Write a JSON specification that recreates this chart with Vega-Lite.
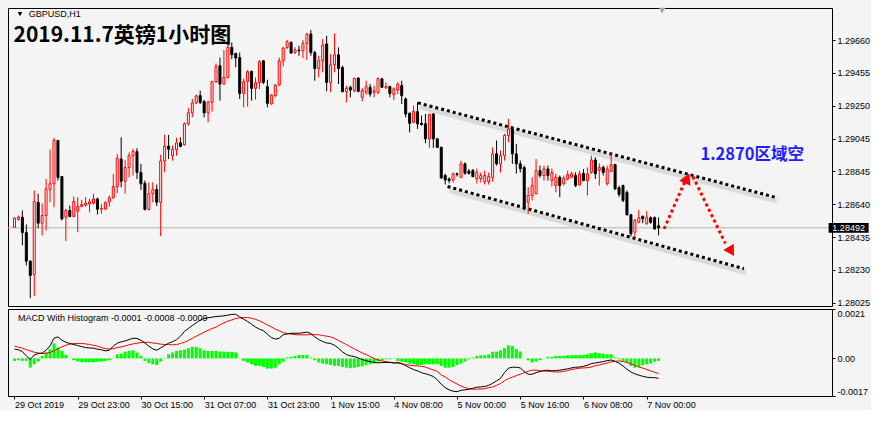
{
"$schema": "https://vega.github.io/schema/vega-lite/v6.json",
"padding": {"left": 7, "top": 7, "right": 0, "bottom": 0},
"background": "#f4f4f4",
"spacing": 3,
"bounds": "flush",
"config": {
  "view": {"stroke": "#000000", "strokeWidth": 1, "fill": "#f4f4f4"},
  "axis": {"labelFont": "Liberation Sans", "labelFontSize": 9, "labelColor": "#000000", "tickColor": "#000000", "domain": false, "grid": false, "labelOverlap": false}
},
"datasets": {
"k": [
{"i":0,"o":1.28496,"h":1.28557,"l":1.28494,"c":1.28552,"m":0.00041,"s":0.00055,"g":-0.00011},
{"i":1,"o":1.28544,"h":1.28569,"l":1.28538,"c":1.28558,"m":0.00038,"s":0.00049,"g":-0.00008},
{"i":2,"o":1.28558,"h":1.28600,"l":1.28383,"c":1.28462,"m":0.00030,"s":0.00045,"g":-0.00011},
{"i":3,"o":1.28462,"h":1.28513,"l":1.28258,"c":1.28285,"m":0.00011,"s":0.00039,"g":-0.00011},
{"i":4,"o":1.28285,"h":1.28289,"l":1.28055,"c":1.28196,"m":-0.00004,"s":0.00033,"g":-0.00041},
{"i":5,"o":1.28200,"h":1.28724,"l":1.28068,"c":1.28656,"m":0.00015,"s":0.00027,"g":-0.00026},
{"i":6,"o":1.28650,"h":1.28704,"l":1.28490,"c":1.28521,"m":0.00021,"s":0.00024,"g":-0.00014},
{"i":7,"o":1.28521,"h":1.28643,"l":1.28445,"c":1.28569,"m":0.00024,"s":0.00021,"g":0.00011},
{"i":8,"o":1.28569,"h":1.28796,"l":1.28476,"c":1.28734,"m":0.00036,"s":0.00023,"g":0.00026},
{"i":9,"o":1.28730,"h":1.28979,"l":1.28651,"c":1.28766,"m":0.00055,"s":0.00026,"g":0.00041},
{"i":10,"o":1.28766,"h":1.29052,"l":1.28620,"c":1.29035,"m":0.00089,"s":0.00033,"g":0.00066},
{"i":11,"o":1.29035,"h":1.29039,"l":1.28786,"c":1.28806,"m":0.00095,"s":0.00042,"g":0.00048},
{"i":12,"o":1.28811,"h":1.28811,"l":1.28538,"c":1.28548,"m":0.00080,"s":0.00051,"g":0.00033},
{"i":13,"o":1.28558,"h":1.28610,"l":1.28410,"c":1.28600,"m":0.00071,"s":0.00058,"g":0.00015},
{"i":14,"o":1.28600,"h":1.28631,"l":1.28558,"c":1.28563,"m":0.00066,"s":0.00063,"g":0.00001},
{"i":15,"o":1.28563,"h":1.28687,"l":1.28558,"c":1.28656,"m":0.00061,"s":0.00066,"g":-0.00008},
{"i":16,"o":1.28596,"h":1.28683,"l":1.28465,"c":1.28625,"m":0.00057,"s":0.00066,"g":-0.00014},
{"i":17,"o":1.28625,"h":1.28666,"l":1.28620,"c":1.28637,"m":0.00052,"s":0.00066,"g":-0.00017},
{"i":18,"o":1.28633,"h":1.28683,"l":1.28625,"c":1.28645,"m":0.00048,"s":0.00064,"g":-0.00017},
{"i":19,"o":1.28641,"h":1.28672,"l":1.28589,"c":1.28654,"m":0.00046,"s":0.00061,"g":-0.00017},
{"i":20,"o":1.28645,"h":1.28704,"l":1.28637,"c":1.28672,"m":0.00045,"s":0.00058,"g":-0.00017},
{"i":21,"o":1.28672,"h":1.28679,"l":1.28575,"c":1.28608,"m":0.00041,"s":0.00054,"g":-0.00015},
{"i":22,"o":1.28608,"h":1.28641,"l":1.28579,"c":1.28612,"m":0.00038,"s":0.00048,"g":-0.00014},
{"i":23,"o":1.28608,"h":1.28656,"l":1.28604,"c":1.28650,"m":0.00033,"s":0.00043,"g":-0.00011},
{"i":24,"o":1.28654,"h":1.28693,"l":1.28625,"c":1.28679,"m":0.00036,"s":0.00041,"g":-0.00007},
{"i":25,"o":1.28679,"h":1.28828,"l":1.28672,"c":1.28749,"m":0.00054,"s":0.00043,"g":0.00001},
{"i":26,"o":1.28749,"h":1.28952,"l":1.28707,"c":1.28924,"m":0.00067,"s":0.00048,"g":0.00018},
{"i":27,"o":1.28920,"h":1.29055,"l":1.28744,"c":1.28782,"m":0.00073,"s":0.00051,"g":0.00021},
{"i":28,"o":1.28782,"h":1.28914,"l":1.28704,"c":1.28868,"m":0.00077,"s":0.00055,"g":0.00030},
{"i":29,"o":1.28868,"h":1.28961,"l":1.28806,"c":1.28941,"m":0.00083,"s":0.00060,"g":0.00033},
{"i":30,"o":1.28939,"h":1.28983,"l":1.28817,"c":1.28968,"m":0.00089,"s":0.00064,"g":0.00036},
{"i":31,"o":1.28966,"h":1.28987,"l":1.28796,"c":1.28837,"m":0.00088,"s":0.00067,"g":0.00026},
{"i":32,"o":1.28837,"h":1.28890,"l":1.28728,"c":1.28766,"m":0.00080,"s":0.00070,"g":0.00011},
{"i":33,"o":1.28769,"h":1.28786,"l":1.28600,"c":1.28606,"m":0.00068,"s":0.00071,"g":-0.00011},
{"i":34,"o":1.28606,"h":1.28775,"l":1.28600,"c":1.28704,"m":0.00054,"s":0.00071,"g":-0.00021},
{"i":35,"o":1.28704,"h":1.28775,"l":1.28651,"c":1.28730,"m":0.00042,"s":0.00068,"g":-0.00026},
{"i":36,"o":1.28730,"h":1.28761,"l":1.28627,"c":1.28651,"m":0.00036,"s":0.00066,"g":-0.00029},
{"i":37,"o":1.28651,"h":1.28947,"l":1.28441,"c":1.28908,"m":0.00046,"s":0.00063,"g":-0.00014},
{"i":38,"o":1.28908,"h":1.29072,"l":1.28837,"c":1.29000,"m":0.00057,"s":0.00061,"g":-0.00002},
{"i":39,"o":1.29000,"h":1.29070,"l":1.28920,"c":1.28981,"m":0.00067,"s":0.00061,"g":0.00018},
{"i":40,"o":1.28941,"h":1.29004,"l":1.28910,"c":1.28979,"m":0.00074,"s":0.00060,"g":0.00026},
{"i":41,"o":1.28979,"h":1.29052,"l":1.28941,"c":1.29021,"m":0.00082,"s":0.00061,"g":0.00033},
{"i":42,"o":1.29021,"h":1.29055,"l":1.28993,"c":1.28998,"m":0.00098,"s":0.00066,"g":0.00036},
{"i":43,"o":1.29008,"h":1.29148,"l":1.29004,"c":1.29139,"m":0.00119,"s":0.00071,"g":0.00039},
{"i":44,"o":1.29139,"h":1.29238,"l":1.29128,"c":1.29207,"m":0.00132,"s":0.00079,"g":0.00045},
{"i":45,"o":1.29207,"h":1.29293,"l":1.29179,"c":1.29269,"m":0.00145,"s":0.00088,"g":0.00051},
{"i":46,"o":1.29269,"h":1.29320,"l":1.29262,"c":1.29312,"m":0.00157,"s":0.00098,"g":0.00051},
{"i":47,"o":1.29314,"h":1.29345,"l":1.29262,"c":1.29272,"m":0.00169,"s":0.00107,"g":0.00045},
{"i":48,"o":1.29277,"h":1.29287,"l":1.29179,"c":1.29207,"m":0.00176,"s":0.00116,"g":0.00036},
{"i":49,"o":1.29207,"h":1.29283,"l":1.29148,"c":1.29272,"m":0.00179,"s":0.00124,"g":0.00033},
{"i":50,"o":1.29272,"h":1.29407,"l":1.29215,"c":1.29401,"m":0.00182,"s":0.00132,"g":0.00033},
{"i":51,"o":1.29401,"h":1.29514,"l":1.29393,"c":1.29496,"m":0.00185,"s":0.00138,"g":0.00033},
{"i":52,"o":1.29500,"h":1.29551,"l":1.29283,"c":1.29386,"m":0.00186,"s":0.00148,"g":0.00030},
{"i":53,"o":1.29386,"h":1.29598,"l":1.29382,"c":1.29427,"m":0.00188,"s":0.00157,"g":0.00030},
{"i":54,"o":1.29427,"h":1.29642,"l":1.29421,"c":1.29614,"m":0.00191,"s":0.00164,"g":0.00029},
{"i":55,"o":1.29614,"h":1.29645,"l":1.29541,"c":1.29568,"m":0.00194,"s":0.00170,"g":0.00029},
{"i":56,"o":1.29576,"h":1.29582,"l":1.29490,"c":1.29548,"m":0.00195,"s":0.00176,"g":0.00026},
{"i":57,"o":1.29551,"h":1.29582,"l":1.29293,"c":1.29328,"m":0.00183,"s":0.00179,"g":0.00001},
{"i":58,"o":1.29328,"h":1.29421,"l":1.29241,"c":1.29401,"m":0.00173,"s":0.00180,"g":-0.00011},
{"i":59,"o":1.29401,"h":1.29473,"l":1.29246,"c":1.29463,"m":0.00163,"s":0.00180,"g":-0.00018},
{"i":60,"o":1.29465,"h":1.29469,"l":1.29283,"c":1.29359,"m":0.00151,"s":0.00177,"g":-0.00026},
{"i":61,"o":1.29359,"h":1.29427,"l":1.29289,"c":1.29395,"m":0.00138,"s":0.00172,"g":-0.00033},
{"i":62,"o":1.29395,"h":1.29535,"l":1.29355,"c":1.29525,"m":0.00129,"s":0.00166,"g":-0.00033},
{"i":63,"o":1.29531,"h":1.29535,"l":1.29386,"c":1.29396,"m":0.00122,"s":0.00157,"g":-0.00038},
{"i":64,"o":1.29370,"h":1.29413,"l":1.29241,"c":1.29266,"m":0.00107,"s":0.00148,"g":-0.00045},
{"i":65,"o":1.29262,"h":1.29324,"l":1.29258,"c":1.29318,"m":0.00092,"s":0.00139,"g":-0.00045},
{"i":66,"o":1.29314,"h":1.29386,"l":1.29303,"c":1.29380,"m":0.00085,"s":0.00129,"g":-0.00041},
{"i":67,"o":1.29380,"h":1.29551,"l":1.29376,"c":1.29531,"m":0.00089,"s":0.00122,"g":-0.00026},
{"i":68,"o":1.29531,"h":1.29618,"l":1.29496,"c":1.29610,"m":0.00104,"s":0.00114,"g":-0.00014},
{"i":69,"o":1.29614,"h":1.29660,"l":1.29604,"c":1.29650,"m":0.00108,"s":0.00110,"g":0.00004},
{"i":70,"o":1.29645,"h":1.29651,"l":1.29573,"c":1.29579,"m":0.00111,"s":0.00107,"g":0.00007},
{"i":71,"o":1.29582,"h":1.29614,"l":1.29573,"c":1.29598,"m":0.00111,"s":0.00105,"g":0.00011},
{"i":72,"o":1.29598,"h":1.29625,"l":1.29562,"c":1.29593,"m":0.00111,"s":0.00104,"g":0.00015},
{"i":73,"o":1.29593,"h":1.29660,"l":1.29548,"c":1.29639,"m":0.00113,"s":0.00104,"g":0.00015},
{"i":74,"o":1.29639,"h":1.29704,"l":1.29535,"c":1.29697,"m":0.00116,"s":0.00104,"g":0.00015},
{"i":75,"o":1.29697,"h":1.29722,"l":1.29562,"c":1.29582,"m":0.00110,"s":0.00105,"g":0.00004},
{"i":76,"o":1.29582,"h":1.29593,"l":1.29407,"c":1.29483,"m":0.00095,"s":0.00105,"g":-0.00008},
{"i":77,"o":1.29483,"h":1.29562,"l":1.29427,"c":1.29531,"m":0.00083,"s":0.00104,"g":-0.00018},
{"i":78,"o":1.29531,"h":1.29666,"l":1.29459,"c":1.29629,"m":0.00074,"s":0.00101,"g":-0.00023},
{"i":79,"o":1.29635,"h":1.29686,"l":1.29341,"c":1.29396,"m":0.00068,"s":0.00098,"g":-0.00026},
{"i":80,"o":1.29396,"h":1.29573,"l":1.29335,"c":1.29506,"m":0.00066,"s":0.00095,"g":-0.00029},
{"i":81,"o":1.29506,"h":1.29701,"l":1.29459,"c":1.29568,"m":0.00058,"s":0.00088,"g":-0.00033},
{"i":82,"o":1.29568,"h":1.29614,"l":1.29386,"c":1.29483,"m":0.00045,"s":0.00079,"g":-0.00033},
{"i":83,"o":1.29490,"h":1.29500,"l":1.29335,"c":1.29339,"m":0.00029,"s":0.00070,"g":-0.00038},
{"i":84,"o":1.29339,"h":1.29376,"l":1.29272,"c":1.29359,"m":0.00017,"s":0.00061,"g":-0.00041},
{"i":85,"o":1.29366,"h":1.29376,"l":1.29303,"c":1.29349,"m":0.00011,"s":0.00051,"g":-0.00043},
{"i":86,"o":1.29345,"h":1.29427,"l":1.29335,"c":1.29421,"m":0.00008,"s":0.00042,"g":-0.00041},
{"i":87,"o":1.29424,"h":1.29427,"l":1.29335,"c":1.29341,"m":0.00002,"s":0.00033,"g":-0.00038},
{"i":88,"o":1.29303,"h":1.29362,"l":1.29279,"c":1.29345,"m":-0.00005,"s":0.00024,"g":-0.00035},
{"i":89,"o":1.29335,"h":1.29407,"l":1.29320,"c":1.29370,"m":-0.00010,"s":0.00017,"g":-0.00030},
{"i":90,"o":1.29366,"h":1.29386,"l":1.29308,"c":1.29324,"m":-0.00014,"s":0.00008,"g":-0.00026},
{"i":91,"o":1.29335,"h":1.29376,"l":1.29303,"c":1.29345,"m":-0.00017,"s":-0.00001,"g":-0.00023},
{"i":92,"o":1.29335,"h":1.29427,"l":1.29324,"c":1.29421,"m":-0.00020,"s":-0.00007,"g":-0.00014},
{"i":93,"o":1.29418,"h":1.29424,"l":1.29362,"c":1.29366,"m":-0.00018,"s":-0.00011,"g":-0.00008},
{"i":94,"o":1.29362,"h":1.29397,"l":1.29356,"c":1.29370,"m":-0.00018,"s":-0.00014,"g":-0.00004},
{"i":95,"o":1.29370,"h":1.29376,"l":1.29303,"c":1.29328,"m":-0.00018,"s":-0.00017,"g":-0.00004},
{"i":96,"o":1.29320,"h":1.29366,"l":1.29287,"c":1.29356,"m":-0.00020,"s":-0.00020,"g":-0.00001},
{"i":97,"o":1.29349,"h":1.29397,"l":1.29324,"c":1.29386,"m":-0.00018,"s":-0.00021,"g":-0.00011},
{"i":98,"o":1.29376,"h":1.29407,"l":1.29262,"c":1.29314,"m":-0.00023,"s":-0.00024,"g":-0.00015},
{"i":99,"o":1.29293,"h":1.29303,"l":1.29179,"c":1.29200,"m":-0.00032,"s":-0.00027,"g":-0.00018},
{"i":100,"o":1.29204,"h":1.29210,"l":1.29086,"c":1.29142,"m":-0.00041,"s":-0.00030,"g":-0.00023},
{"i":101,"o":1.29148,"h":1.29252,"l":1.29142,"c":1.29215,"m":-0.00049,"s":-0.00032,"g":-0.00026},
{"i":102,"o":1.29215,"h":1.29273,"l":1.29107,"c":1.29139,"m":-0.00055,"s":-0.00033,"g":-0.00029},
{"i":103,"o":1.29142,"h":1.29190,"l":1.29128,"c":1.29134,"m":-0.00063,"s":-0.00035,"g":-0.00029},
{"i":104,"o":1.29139,"h":1.29200,"l":1.29018,"c":1.29045,"m":-0.00068,"s":-0.00038,"g":-0.00026},
{"i":105,"o":1.29045,"h":1.29204,"l":1.28989,"c":1.29196,"m":-0.00073,"s":-0.00045,"g":-0.00026},
{"i":106,"o":1.29200,"h":1.29204,"l":1.28989,"c":1.29045,"m":-0.00080,"s":-0.00051,"g":-0.00026},
{"i":107,"o":1.29045,"h":1.29052,"l":1.28989,"c":1.28993,"m":-0.00094,"s":-0.00057,"g":-0.00026},
{"i":108,"o":1.28993,"h":1.28997,"l":1.28796,"c":1.28803,"m":-0.00114,"s":-0.00073,"g":-0.00033},
{"i":109,"o":1.28817,"h":1.28828,"l":1.28761,"c":1.28790,"m":-0.00129,"s":-0.00082,"g":-0.00041},
{"i":110,"o":1.28796,"h":1.28806,"l":1.28769,"c":1.28786,"m":-0.00139,"s":-0.00094,"g":-0.00041},
{"i":111,"o":1.28790,"h":1.28837,"l":1.28775,"c":1.28828,"m":-0.00145,"s":-0.00104,"g":-0.00038},
{"i":112,"o":1.28828,"h":1.28836,"l":1.28811,"c":1.28823,"m":-0.00147,"s":-0.00113,"g":-0.00029},
{"i":113,"o":1.28806,"h":1.28910,"l":1.28803,"c":1.28890,"m":-0.00141,"s":-0.00122,"g":-0.00023},
{"i":114,"o":1.28890,"h":1.28899,"l":1.28823,"c":1.28831,"m":-0.00139,"s":-0.00129,"g":-0.00014},
{"i":115,"o":1.28844,"h":1.28858,"l":1.28823,"c":1.28831,"m":-0.00136,"s":-0.00134,"g":-0.00004},
{"i":116,"o":1.28848,"h":1.28858,"l":1.28806,"c":1.28811,"m":-0.00132,"s":-0.00136,"g":0.00004},
{"i":117,"o":1.28798,"h":1.28860,"l":1.28767,"c":1.28836,"m":-0.00127,"s":-0.00136,"g":0.00011},
{"i":118,"o":1.28798,"h":1.28836,"l":1.28774,"c":1.28817,"m":-0.00126,"s":-0.00135,"g":0.00014},
{"i":119,"o":1.28780,"h":1.28848,"l":1.28761,"c":1.28817,"m":-0.00124,"s":-0.00134,"g":0.00014},
{"i":120,"o":1.28780,"h":1.28836,"l":1.28761,"c":1.28811,"m":-0.00119,"s":-0.00129,"g":0.00018},
{"i":121,"o":1.28806,"h":1.28993,"l":1.28780,"c":1.28952,"m":-0.00110,"s":-0.00126,"g":0.00029},
{"i":122,"o":1.28952,"h":1.29035,"l":1.28879,"c":1.28890,"m":-0.00099,"s":-0.00119,"g":0.00030},
{"i":123,"o":1.28890,"h":1.28972,"l":1.28836,"c":1.28941,"m":-0.00088,"s":-0.00111,"g":0.00036},
{"i":124,"o":1.28941,"h":1.29076,"l":1.28910,"c":1.29066,"m":-0.00063,"s":-0.00099,"g":0.00045},
{"i":125,"o":1.29066,"h":1.29170,"l":1.29024,"c":1.29107,"m":-0.00043,"s":-0.00089,"g":0.00058},
{"i":126,"o":1.29107,"h":1.29117,"l":1.28890,"c":1.28952,"m":-0.00039,"s":-0.00083,"g":0.00055},
{"i":127,"o":1.28952,"h":1.29014,"l":1.28829,"c":1.28890,"m":-0.00039,"s":-0.00076,"g":0.00041},
{"i":128,"o":1.28890,"h":1.28910,"l":1.28836,"c":1.28860,"m":-0.00042,"s":-0.00070,"g":0.00030},
{"i":129,"o":1.28867,"h":1.28879,"l":1.28600,"c":1.28610,"m":-0.00058,"s":-0.00063,"g":0.00001},
{"i":130,"o":1.28651,"h":1.28745,"l":1.28579,"c":1.28693,"m":-0.00070,"s":-0.00057,"g":-0.00008},
{"i":131,"o":1.28693,"h":1.28806,"l":1.28662,"c":1.28755,"m":-0.00070,"s":-0.00052,"g":-0.00018},
{"i":132,"o":1.28704,"h":1.28920,"l":1.28700,"c":1.28848,"m":-0.00063,"s":-0.00052,"g":-0.00014},
{"i":133,"o":1.28848,"h":1.28879,"l":1.28804,"c":1.28817,"m":-0.00058,"s":-0.00055,"g":-0.00007},
{"i":134,"o":1.28817,"h":1.28879,"l":1.28786,"c":1.28858,"m":-0.00054,"s":-0.00055,"g":0.00001},
{"i":135,"o":1.28858,"h":1.28879,"l":1.28786,"c":1.28817,"m":-0.00052,"s":-0.00057,"g":0.00007},
{"i":136,"o":1.28786,"h":1.28860,"l":1.28749,"c":1.28836,"m":-0.00055,"s":-0.00058,"g":0.00007},
{"i":137,"o":1.28755,"h":1.28828,"l":1.28713,"c":1.28806,"m":-0.00054,"s":-0.00060,"g":0.00011},
{"i":138,"o":1.28806,"h":1.28817,"l":1.28683,"c":1.28755,"m":-0.00052,"s":-0.00060,"g":0.00011},
{"i":139,"o":1.28766,"h":1.28817,"l":1.28755,"c":1.28800,"m":-0.00049,"s":-0.00057,"g":0.00011},
{"i":140,"o":1.28796,"h":1.28848,"l":1.28786,"c":1.28823,"m":-0.00046,"s":-0.00054,"g":0.00014},
{"i":141,"o":1.28806,"h":1.28842,"l":1.28804,"c":1.28828,"m":-0.00042,"s":-0.00049,"g":0.00014},
{"i":142,"o":1.28817,"h":1.28837,"l":1.28745,"c":1.28755,"m":-0.00039,"s":-0.00046,"g":0.00014},
{"i":143,"o":1.28759,"h":1.28848,"l":1.28755,"c":1.28828,"m":-0.00038,"s":-0.00043,"g":0.00014},
{"i":144,"o":1.28831,"h":1.28858,"l":1.28782,"c":1.28786,"m":-0.00035,"s":-0.00042,"g":0.00015},
{"i":145,"o":1.28786,"h":1.28868,"l":1.28693,"c":1.28828,"m":-0.00030,"s":-0.00041,"g":0.00018},
{"i":146,"o":1.28837,"h":1.28941,"l":1.28828,"c":1.28914,"m":-0.00023,"s":-0.00038,"g":0.00023},
{"i":147,"o":1.28914,"h":1.28931,"l":1.28796,"c":1.28828,"m":-0.00020,"s":-0.00032,"g":0.00026},
{"i":148,"o":1.28848,"h":1.28893,"l":1.28755,"c":1.28868,"m":-0.00017,"s":-0.00029,"g":0.00023},
{"i":149,"o":1.28868,"h":1.28879,"l":1.28817,"c":1.28837,"m":-0.00014,"s":-0.00024,"g":0.00021},
{"i":150,"o":1.28766,"h":1.28879,"l":1.28755,"c":1.28858,"m":-0.00010,"s":-0.00020,"g":0.00018},
{"i":151,"o":1.28844,"h":1.28961,"l":1.28837,"c":1.28883,"m":-0.00007,"s":-0.00015,"g":0.00018},
{"i":152,"o":1.28885,"h":1.28890,"l":1.28728,"c":1.28734,"m":-0.00013,"s":-0.00013,"g":0.00004},
{"i":153,"o":1.28741,"h":1.28755,"l":1.28683,"c":1.28700,"m":-0.00021,"s":-0.00011,"g":-0.00004},
{"i":154,"o":1.28755,"h":1.28761,"l":1.28651,"c":1.28662,"m":-0.00033,"s":-0.00014,"g":-0.00011},
{"i":155,"o":1.28712,"h":1.28724,"l":1.28569,"c":1.28573,"m":-0.00048,"s":-0.00018,"g":-0.00018},
{"i":156,"o":1.28573,"h":1.28579,"l":1.28439,"c":1.28455,"m":-0.00060,"s":-0.00024,"g":-0.00033},
{"i":157,"o":1.28465,"h":1.28548,"l":1.28431,"c":1.28538,"m":-0.00068,"s":-0.00030,"g":-0.00041},
{"i":158,"o":1.28527,"h":1.28604,"l":1.28521,"c":1.28555,"m":-0.00074,"s":-0.00038,"g":-0.00038},
{"i":159,"o":1.28563,"h":1.28569,"l":1.28521,"c":1.28548,"m":-0.00079,"s":-0.00043,"g":-0.00030},
{"i":160,"o":1.28517,"h":1.28596,"l":1.28513,"c":1.28555,"m":-0.00083,"s":-0.00049,"g":-0.00026},
{"i":161,"o":1.28555,"h":1.28563,"l":1.28517,"c":1.28527,"m":-0.00085,"s":-0.00055,"g":-0.00023},
{"i":162,"o":1.28555,"h":1.28563,"l":1.28479,"c":1.28486,"m":-0.00085,"s":-0.00061,"g":-0.00015},
{"i":163,"o":1.28505,"h":1.28558,"l":1.28445,"c":1.28492,"m":-0.00088,"s":-0.00067,"g":-0.00011}
],
"ann": [
{"g":"u","x":102.1,"p":1.29269},{"g":"u","x":192.4,"p":1.28683},
{"g":"d","x":109.6,"p":1.28749},{"g":"d","x":184.6,"p":1.28238},
{"g":"a1","x":164.4,"p":1.28486},{"g":"a1","x":169.6,"p":1.28777},
{"g":"a2","x":171.7,"p":1.28811},{"g":"a2","x":179.9,"p":1.28395}
],
"heads": [
{"k":"up","x":170.2,"p":1.28799},{"k":"down","x":181.4,"p":1.28345}
]
},
"vconcat": [
{
"width": 824,
"height": 298,
"layer": [
{
  "data": {"values": [{"p": 1.28492}]},
  "mark": {"type": "rule", "color": "#b4b4b4", "strokeWidth": 1},
  "encoding": {
    "y": {"field": "p", "type": "quantitative", "title": null, "scale": {"domain": [1.28006, 1.29859], "nice": false, "zero": false},
      "axis": {"orient": "right", "title": null, "values": [1.2966, 1.29455, 1.2925, 1.29045, 1.28845, 1.2864, 1.28435, 1.2823, 1.28025], "tickCount": 30, "format": ".5f", "tickSize": 3, "labelPadding": 2, "labelOverlap": false, "labelBound": false, "labelFlush": false}}
  }
},
{
  "data": {"name": "ann"},
  "transform": [{"filter": "datum.g == 'u' || datum.g == 'd'"}],
  "mark": {"type": "line", "stroke": "#c4c4c4", "strokeWidth": 5, "opacity": 0.55, "yOffset": 4, "xOffset": 2},
  "encoding": {
    "x": {"field": "x", "type": "quantitative", "scale": {"domain": [-0.375, 205.625], "nice": false, "zero": false}, "axis": null},
    "y": {"field": "p", "type": "quantitative", "title": null},
    "detail": {"field": "g"}
  }
},
{
  "data": {"name": "ann"},
  "transform": [{"filter": "datum.g == 'u' || datum.g == 'd'"}],
  "mark": {"type": "line", "stroke": "#000000", "strokeWidth": 3, "strokeDash": [3, 3], "strokeCap": "butt"},
  "encoding": {
    "x": {"field": "x", "type": "quantitative", "axis": null},
    "y": {"field": "p", "type": "quantitative", "title": null},
    "detail": {"field": "g"}
  }
},
{
  "data": {"name": "k"},
  "mark": {"type": "rule", "strokeWidth": 1},
  "encoding": {
    "x": {"field": "i", "type": "quantitative", "axis": null},
    "y": {"field": "l", "type": "quantitative", "title": null},
    "y2": {"field": "h"},
    "color": {"condition": {"test": "datum.c >= datum.o", "value": "#ff0000"}, "value": "#000000"}
  }
},
{
  "data": {"name": "k"},
  "mark": {"type": "bar", "width": 2, "strokeWidth": 1},
  "encoding": {
    "x": {"field": "i", "type": "quantitative", "axis": null},
    "y": {"field": "o", "type": "quantitative", "title": null},
    "y2": {"field": "c"},
    "fill": {"condition": {"test": "datum.c >= datum.o", "value": "#f4f4f4"}, "value": "#000000"},
    "stroke": {"condition": {"test": "datum.c >= datum.o", "value": "#ff0000"}, "value": "#000000"}
  }
},
{
  "data": {"name": "ann"},
  "transform": [{"filter": "datum.g == 'a1' || datum.g == 'a2'"}],
  "mark": {"type": "line", "stroke": "#ff0000", "strokeWidth": 3, "strokeDash": [3, 3], "strokeCap": "butt"},
  "encoding": {
    "x": {"field": "x", "type": "quantitative", "axis": null},
    "y": {"field": "p", "type": "quantitative", "title": null},
    "detail": {"field": "g"}
  }
},
{
  "data": {"name": "heads"},
  "mark": {"type": "point", "shape": "triangle-up", "filled": true, "color": "#ff0000", "size": 150, "opacity": 1},
  "encoding": {
    "x": {"field": "x", "type": "quantitative", "axis": null},
    "y": {"field": "p", "type": "quantitative", "title": null},
    "angle": {"field": "k", "type": "nominal", "scale": {"domain": ["up", "down"], "range": [24, 149]}, "legend": null}
  }
},
{
  "data": {"values": [{"x": 163.9, "p": 1.29843}]},
  "mark": {"type": "point", "shape": "triangle-down", "filled": true, "color": "#a8a8a8", "size": 45, "opacity": 1},
  "encoding": {
    "x": {"field": "x", "type": "quantitative", "axis": null},
    "y": {"field": "p", "type": "quantitative", "title": null}
  }
},
{
  "data": {"values": [{"x": 1.4, "p": 1.29821}]},
  "mark": {"type": "point", "shape": "triangle-down", "filled": true, "color": "#000000", "size": 22, "opacity": 1},
  "encoding": {
    "x": {"field": "x", "type": "quantitative", "axis": null},
    "y": {"field": "p", "type": "quantitative", "title": null}
  }
},
{
  "data": {"values": [{"x": 3.6, "p": 1.29821, "t": "GBPUSD,H1"}]},
  "mark": {"type": "text", "align": "left", "baseline": "middle", "font": "Liberation Sans", "fontSize": 9, "color": "#000000"},
  "encoding": {
    "x": {"field": "x", "type": "quantitative", "axis": null},
    "y": {"field": "p", "type": "quantitative", "title": null},
    "text": {"field": "t"}
  }
},
{
  "data": {"values": [{"x": -0.25, "p": 1.29684, "t": "2019.11.7英镑1小时图"}]},
  "mark": {"type": "text", "align": "left", "baseline": "middle", "font": "Noto Sans CJK SC", "fontWeight": "bold", "fontSize": 21, "color": "#000000"},
  "encoding": {
    "x": {"field": "x", "type": "quantitative", "axis": null},
    "y": {"field": "p", "type": "quantitative", "title": null},
    "text": {"field": "t"}
  }
},
{
  "data": {"values": [{"x": 173.6, "p": 1.28946, "t": "1.2870区域空"}]},
  "mark": {"type": "text", "align": "left", "baseline": "middle", "font": "Noto Sans CJK SC", "fontWeight": "bold", "fontSize": 16.5, "color": "#1e1eff"},
  "encoding": {
    "x": {"field": "x", "type": "quantitative", "axis": null},
    "y": {"field": "p", "type": "quantitative", "title": null},
    "text": {"field": "t"}
  }
},
{
  "data": {"values": [{"x": 211.1, "p": 1.28492}]},
  "mark": {"type": "point", "shape": "M-1,-0.24L1,-0.24L1,0.24L-1,0.24Z", "filled": true, "color": "#000000", "size": 1600, "opacity": 1},
  "encoding": {
    "x": {"field": "x", "type": "quantitative", "axis": null},
    "y": {"field": "p", "type": "quantitative", "title": null}
  }
},
{
  "data": {"values": [{"x": 211.1, "p": 1.28492, "t": "1.28492"}]},
  "mark": {"type": "text", "align": "center", "baseline": "middle", "font": "Liberation Sans", "fontSize": 9, "color": "#ffffff"},
  "encoding": {
    "x": {"field": "x", "type": "quantitative", "axis": null},
    "y": {"field": "p", "type": "quantitative", "title": null},
    "text": {"field": "t"}
  }
}
]
},
{
"width": 824,
"height": 87,
"data": {"name": "k"},
"layer": [
{
  "mark": {"type": "bar", "width": 3, "color": "#00ff00"},
  "encoding": {
    "x": {"field": "i", "type": "quantitative", "title": null, "scale": {"domain": [-0.375, 205.625], "nice": false, "zero": false},
      "axis": {"orient": "bottom", "title": null, "values": [0, 16, 32, 48, 64, 80, 96, 112, 128, 144, 160], "tickCount": 40,
        "labelExpr": "['29 Oct 2019','29 Oct 23:00','30 Oct 15:00','31 Oct 07:00','31 Oct 23:00','1 Nov 15:00','4 Nov 08:00','5 Nov 00:00','5 Nov 16:00','6 Nov 08:00','7 Nov 00:00'][round(datum.value/16)]",
        "labelAlign": "left", "labelPadding": 1, "tickSize": 3, "labelFlush": false, "labelOverlap": false, "labelBound": false}},
    "y": {"field": "g", "type": "quantitative", "title": null, "scale": {"domain": [-0.00166, 0.00218], "nice": false, "zero": false},
      "axis": {"orient": "right", "title": null, "values": [-0.00166, 0, 0.00218], "tickCount": 10, "labelFlush": true, "labelOverlap": false, "tickSize": 3, "labelPadding": 2,
        "labelExpr": "datum.value == 0 ? '0.00' : (datum.value > 0 ? '0.0021' : '-0.0017')"}},
    "y2": {"datum": 0}
  }
},
{
  "mark": {"type": "line", "stroke": "#ff0000", "strokeWidth": 1},
  "encoding": {
    "x": {"field": "i", "type": "quantitative", "title": null},
    "y": {"field": "s", "type": "quantitative", "title": null}
  }
},
{
  "mark": {"type": "line", "stroke": "#000000", "strokeWidth": 1},
  "encoding": {
    "x": {"field": "i", "type": "quantitative", "title": null},
    "y": {"field": "m", "type": "quantitative", "title": null}
  }
},
{
  "data": {"values": [{"x": 0.9, "v": 0.00178, "t": "MACD With Histogram -0.0001 -0.0008 -0.0009"}]},
  "mark": {"type": "text", "align": "left", "baseline": "middle", "font": "Liberation Sans", "fontSize": 9, "color": "#000000"},
  "encoding": {
    "x": {"field": "x", "type": "quantitative", "title": null},
    "y": {"field": "v", "type": "quantitative", "title": null},
    "text": {"field": "t"}
  }
}
]
}
]
}
